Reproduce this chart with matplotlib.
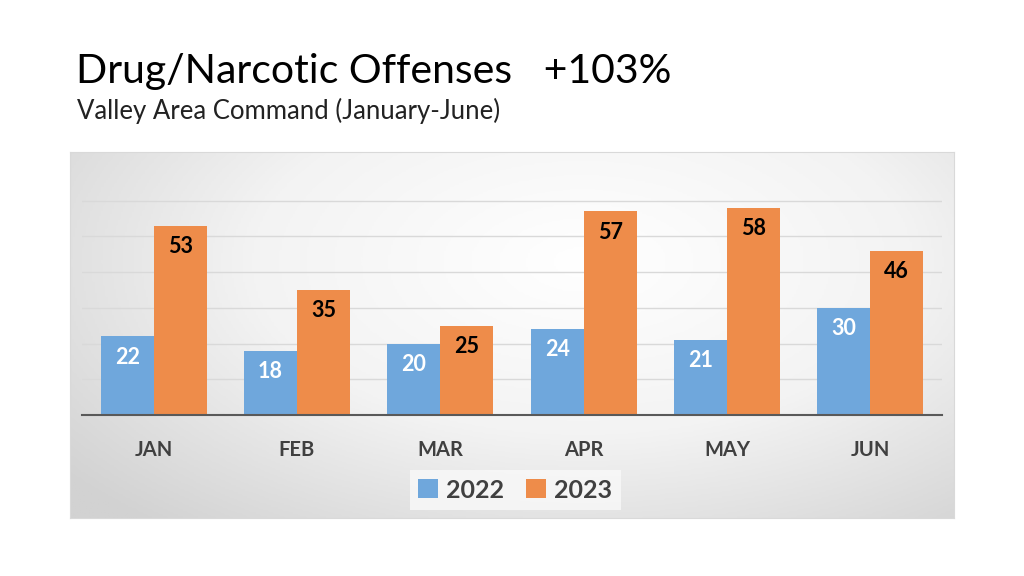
import numpy as np
import matplotlib.pyplot as plt
from matplotlib.colors import LinearSegmentedColormap

months = ["JAN", "FEB", "MAR", "APR", "MAY", "JUN"]
y2022 = [22, 18, 20, 24, 21, 30]
y2023 = [53, 35, 25, 57, 58, 46]
series = ["2022", "2023"]

blue = "#6fa7dc"
orange = "#ee8c4a"
dark = "#404040"

plt.rcParams['font.family'] = ['Lato', 'DejaVu Sans']

W, H = 1024, 576
fig = plt.figure(figsize=(W / 100, H / 100), dpi=100)
fig.patch.set_facecolor("white")

# title block
fig.text(76 / W, 1 - 71 / H, "Drug/Narcotic Offenses   +103%", fontsize=29.5,
         color="black", va="center", ha="left")
fig.text(77 / W, 1 - 111 / H, "Valley Area Command (January-June)", fontsize=18.5,
         color="#222222", va="center", ha="left")

# gray radial gradient panel behind the chart
bg = fig.add_axes([70 / W, 1 - 518 / H, 884 / W, 366 / H])
gx, gy = np.meshgrid(np.linspace(0, 1, 400), np.linspace(0, 1, 200))
r = np.sqrt(((gx - 0.58) / 0.75) ** 2 + ((gy - 0.3) / 0.95) ** 2)
cmap = LinearSegmentedColormap.from_list("g", ["#ffffff", "#f3f3f3", "#d2d2d2"])
bg.imshow(np.clip(r, 0, 1), cmap=cmap, aspect="auto", extent=(0, 1, 1, 0), vmin=0, vmax=1)
bg.set_xlim(0, 1)
bg.set_ylim(1, 0)
for s in bg.spines.values():
    s.set_color("#d9d9d9")
bg.set_xticks([])
bg.set_yticks([])

# main chart axes
ax = fig.add_axes([82 / W, 1 - 415 / H, 860 / W, 250 / H])
ax.set_facecolor("none")
x = np.arange(len(months))
w = 0.37
b1 = ax.bar(x - w / 2, y2022, w, color=blue, label=series[0], zorder=3)
b2 = ax.bar(x + w / 2, y2023, w, color=orange, label=series[1], zorder=3)

for rect, v in zip(b1, y2022):
    ax.text(rect.get_x() + rect.get_width() / 2, v - 5.8, str(v), ha="center",
            va="center", fontsize=15.5, fontweight="bold", color="white", zorder=4)
for rect, v in zip(b2, y2023):
    ax.text(rect.get_x() + rect.get_width() / 2, v - 5.8, str(v), ha="center",
            va="center", fontsize=15.5, fontweight="bold", color="black", zorder=4)

ax.set_xlim(-0.5, len(months) - 0.5)
ax.set_ylim(0, 70)
ax.set_yticks([10, 20, 30, 40, 50, 60])
ax.yaxis.grid(True, color="#d9d9d9", linewidth=1, zorder=0)
ax.tick_params(axis="y", left=False, labelleft=False)
ax.set_xticks(x)
ax.set_xticklabels(months, fontsize=14.5, fontweight="bold", color=dark)
ax.tick_params(axis="x", length=0, pad=18)
for s in ["top", "right", "left"]:
    ax.spines[s].set_visible(False)
ax.spines["bottom"].set_color("#595959")
ax.spines["bottom"].set_linewidth(1.5)
ax.spines["bottom"].set_zorder(5)

leg = fig.legend(handles=[b1, b2], labels=series, loc="center",
                 bbox_to_anchor=(515 / W, 1 - 490 / H), ncol=2, frameon=True,
                 fontsize=18, handlelength=0.8, handleheight=0.8,
                 handletextpad=0.3, columnspacing=0.9, borderpad=0.35)
leg.get_frame().set_facecolor("#f9f9f9")
leg.get_frame().set_edgecolor("none")
leg.get_frame().set_boxstyle("square", pad=0.0)
for t in leg.get_texts():
    t.set_fontweight("bold")
    t.set_color(dark)

fig.savefig("out.png", dpi=100)
